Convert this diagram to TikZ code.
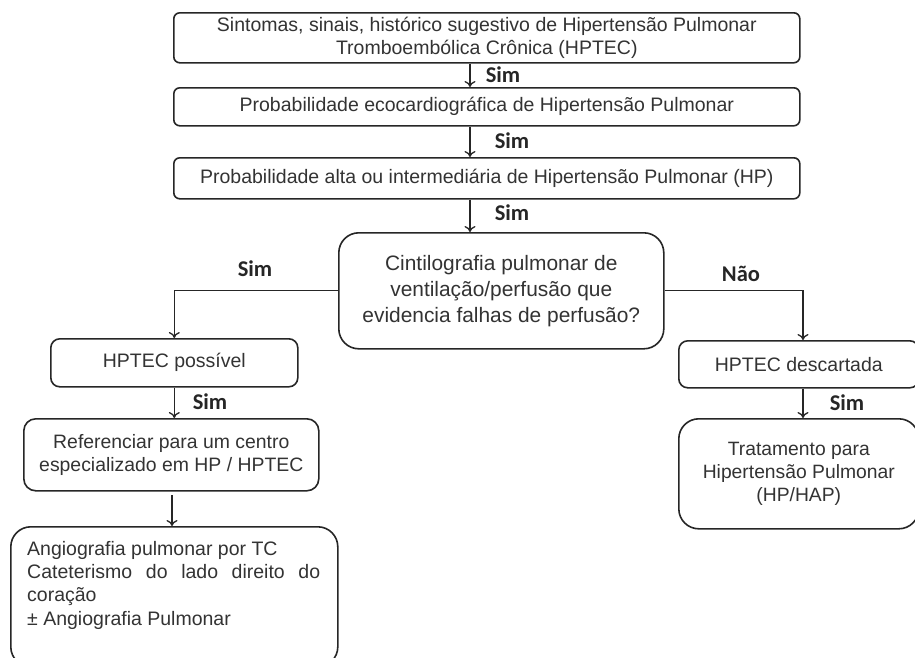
\documentclass[tikz,border=0pt]{standalone}
\usepackage{fontspec}
\setmainfont{Liberation Sans}
\newfontfamily\simfont{Carlito}
\usetikzlibrary{arrows.meta}
\tikzset{
  box/.style={draw=black!85, line width=1.6pt, rounded corners=6pt, align=center, inner sep=0pt, anchor=north west, font=\fontsize{19.5}{23}\selectfont, text=black!80},
  arr/.style={draw=black!85, line width=1.3pt, -{To[length=6pt,width=11pt]}},
  lbl/.style={font=\simfont\bfseries\fontsize{22.5}{24}\selectfont, text=black!85, inner sep=0pt},
}
\begin{document}
\begin{tikzpicture}[x=1pt,y=-1pt]
\useasboundingbox (0,0) rectangle (915,657);
\clip (0,0) rectangle (915,657);
\fill[white] (0,0) rectangle (915,657);
\node[box, minimum width=626pt, minimum height=50pt] (b1) at (173,12)
  {Sintomas, sinais, histórico sugestivo de Hipertensão Pulmonar\\Tromboembólica Crônica (HPTEC)};
\node[box, minimum width=626pt, minimum height=38pt] (b2) at (173,87)
  {Probabilidade ecocardiográfica de Hipertensão Pulmonar};
\node[box, minimum width=626pt, minimum height=41pt] (b3) at (173,157)
  {Probabilidade alta ou intermediária de Hipertensão Pulmonar (HP)};
\node[box, rounded corners=20pt, minimum width=325pt, minimum height=116pt,
  font=\fontsize{20.9}{26}\selectfont] (cint) at (338,232)
  {Cintilografia pulmonar de\\ventilação/perfusão que\\evidencia falhas de perfusão?};
\node[box, rounded corners=9pt, minimum width=247pt, minimum height=48pt,
  font=\fontsize{19.5}{22}\selectfont] (pos) at (50,338) {HPTEC possível};
\node[box, rounded corners=9pt, minimum width=240pt, minimum height=47pt,
  font=\fontsize{19.5}{22}\selectfont] (desc) at (678,340) {HPTEC descartada};
\node[box, rounded corners=12pt, minimum width=295pt, minimum height=72pt,
  font=\fontsize{19.4}{23.5}\selectfont] (ref) at (23,418)
  {Referenciar para um centro\\especializado em HP / HPTEC};
\node[box, rounded corners=20pt, minimum width=240pt, minimum height=110pt,
  font=\fontsize{19.3}{23.3}\selectfont] (trat) at (678,418)
  {Tratamento para\\Hipertensão Pulmonar\\(HP/HAP)};
\node[box, rounded corners=20pt, minimum width=327pt, minimum height=140pt] (ang) at (10,526) {};
\node[anchor=north west, inner sep=0pt, align=left, text=black!80,
  font=\fontsize{19.5}{23.3}\selectfont] (angtxt) at (27,541)
  {Angiografia pulmonar por TC\\\makebox[293pt][s]{Cateterismo do lado direito do}\\coração\\± Angiografia Pulmonar};
% connectors
\coordinate (cx) at (470,0);
\coordinate (dx) at (803,0);
\coordinate (r0) at (172,495);
\draw[arr] (b1.south -| cx) -- (b2.north -| cx);
\draw[arr] (b2.south -| cx) -- (b3.north -| cx);
\draw[arr] (b3.south -| cx) -- (cint.north -| cx);
\draw[arr] (cint.west) -| (pos.north);
\draw[arr] (cint.east) -| (desc.north -| dx);
\draw[arr] (pos.south) -- (ref.north -| pos.south);
\draw[arr] (desc.south -| dx) -- (trat.north -| dx);
\draw[arr] (r0) -- (ang.north -| r0);
% labels
\node[lbl] (s1) at (503,75) {Sim};
\node[lbl] (s2) at (512,141) {Sim};
\node[lbl] (s3) at (512,213) {Sim};
\node[lbl] (s4) at (255,269) {Sim};
\node[lbl] (s5) at (741,274) {Não};
\node[lbl] (s6) at (210,402) {Sim};
\node[lbl] (s7) at (847,403) {Sim};
\end{tikzpicture}
\end{document}
